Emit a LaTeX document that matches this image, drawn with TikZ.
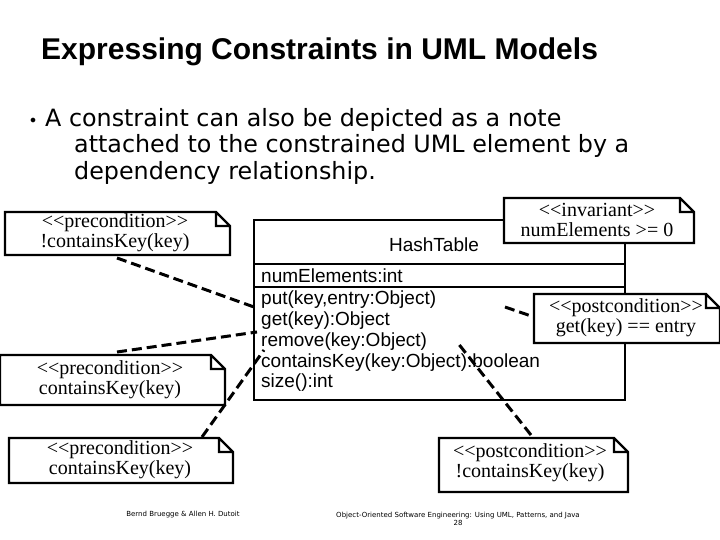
\documentclass[tikz,border=0pt]{standalone}
\usepackage{fontspec}
\setmainfont{Liberation Serif}
\newfontfamily\arialfont{Liberation Sans}
\newfontfamily\verdfont{DejaVu Sans}
\usetikzlibrary{positioning}
\tikzset{
  note/.style={inner sep=0pt, align=center, font=\fontsize{20}{20}\selectfont},
  link/.style={line width=3pt, dash pattern=on 10pt off 5pt},
  box/.style={line width=2.2pt}
}
\begin{document}
\begin{tikzpicture}[x=1pt,y=-1pt]
\useasboundingbox (0,0) rectangle (720,540);

\node[anchor=west, inner sep=0pt, font=\arialfont\bfseries\fontsize{30}{32}\selectfont] (title) at (41,52) {Expressing Constraints in UML Models};
\node[font=\verdfont\fontsize{12}{14}\selectfont] (dot) at (33,121) {$\bullet$};
\node[anchor=west, align=left, inner sep=0pt, font=\verdfont\fontsize{23.8}{26.5}\selectfont] (bullet) at (45,146)
  {A constraint can also be depicted as a note\\
   \hspace*{29pt}attached to the constrained UML element by a\\
   \hspace*{29pt}dependency relationship.};

% class box
\draw[box, fill=white] (254,220) rectangle (625,400);
\draw[box] (254,264) -- (625,264);
\draw[box] (254,287) -- (625,287);
\node[font=\arialfont\fontsize{19}{20}\selectfont] (cname) at (434,245) {HashTable};
\node[anchor=west, inner sep=0pt, font=\arialfont\fontsize{19}{20}\selectfont] (attr) at (261,276) {numElements:int};
\node[anchor=north west, align=left, inner sep=0pt, font=\arialfont\fontsize{19}{20.7}\selectfont] (ops) at (261,291)
  {put(key,entry:Object)\\get(key):Object\\remove(key:Object)\\containsKey(key:Object):boolean\\size():int};

% notes
\foreach \n/\xa/\ya/\xb/\yb in {pre1/5/212/230/255, pre2/0/355/225/405, pre3/9/438/233/483,
    inv/504/198/694/243, postA/534/294/720/343, postB/439/438/628/492}
  \draw[box, fill=white] (\xa,\ya) -- (\xb-14,\ya) -- (\xb,\ya+14) -- (\xb,\yb) -- (\xa,\yb) -- cycle
        (\xb-14,\ya) -- (\xb-14,\ya+14) -- (\xb,\ya+14);

\node[note] (pre1) at (115,233) {{<}{<}precondition{>}{>}\\!containsKey(key)};
\node[note] (pre2) at (110,380) {{<}{<}precondition{>}{>}\\containsKey(key)};
\node[note] (pre3) at (120,460) {{<}{<}precondition{>}{>}\\containsKey(key)};
\node[note] (inv) at (597,220) {{<}{<}invariant{>}{>}\\numElements {>}= 0};
\node[note] (postA) at (626,318) {{<}{<}postcondition{>}{>}\\get(key) == entry};
\node[note] (postB) at (530,463) {{<}{<}postcondition{>}{>}\\!containsKey(key)};

\coordinate (putop) at (254,307);
\coordinate (getop) at (257,332);
\coordinate (remop) at (264,350);
\coordinate (ckop) at (457,342);
\coordinate (getend) at (505,307);

\draw[link] (117,258) -- (putop);
\draw[link] (117,352) -- (getop);
\draw[link] (202,437) -- (remop);
\draw[link] (531,435) -- (ckop);
\draw[link] (getend) -- (534,317);

% footer
\node[font=\verdfont\fontsize{7}{8}\selectfont] (auth) at (183,515) {Bernd Bruegge \& Allen H. Dutoit};
\node[font=\verdfont\fontsize{7}{8}\selectfont, align=center] (book) at (458,519)
  {Object-Oriented Software Engineering: Using UML, Patterns, and Java\\28};
\end{tikzpicture}
\end{document}
